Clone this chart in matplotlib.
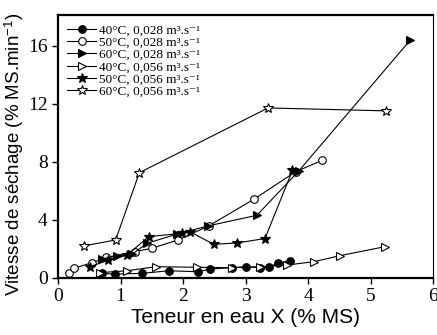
import matplotlib
matplotlib.use('Agg')
import matplotlib.pyplot as plt

plt.rcParams['mathtext.fontset'] = 'custom'
plt.rcParams['mathtext.rm'] = 'Liberation Serif'
plt.rcParams['mathtext.it'] = 'Liberation Serif'
plt.rcParams['mathtext.sf'] = 'Liberation Sans'

# 40°C, 0,028 m3/s (filled circle)
x_40_028 = [0.70, 0.91, 1.35, 1.77, 2.24, 2.43, 2.78, 3.00, 3.23, 3.38, 3.52, 3.71]
y_40_028 = [0.30, 0.25, 0.30, 0.48, 0.41, 0.60, 0.69, 0.76, 0.69, 0.76, 0.99, 1.17]

# 50°C, 0,028 m3/s (open circle)
x_50_028 = [0.18, 0.25, 0.54, 0.77, 1.23, 1.50, 1.92, 2.41, 3.13, 3.80, 4.23]
y_50_028 = [0.30, 0.65, 1.03, 1.40, 1.80, 2.03, 2.60, 3.57, 5.40, 7.30, 8.10]

# 60°C, 0,028 m3/s (filled triangle)
x_60_028 = [0.70, 0.94, 1.18, 1.42, 1.90, 2.40, 3.18, 3.85, 5.63]
y_60_028 = [1.30, 1.50, 1.60, 2.37, 3.00, 3.57, 4.30, 7.35, 16.35]

# 40°C, 0,056 m3/s (open triangle)
x_40_056 = [0.67, 1.10, 1.57, 2.22, 2.78, 3.23, 3.67, 4.09, 4.51, 5.23]
y_40_056 = [0.35, 0.48, 0.76, 0.72, 0.69, 0.76, 0.88, 1.10, 1.52, 2.14]

# 50°C, 0,056 m3/s (filled star)
x_50_056 = [0.51, 0.80, 1.10, 1.45, 1.98, 2.11, 2.49, 2.87, 3.31, 3.75]
y_50_056 = [0.76, 1.20, 1.55, 2.83, 3.06, 3.17, 2.30, 2.40, 2.70, 7.40]

# 60°C, 0,056 m3/s (open star)
x_60_056 = [0.42, 0.92, 1.30, 3.36, 5.24]
y_60_056 = [2.20, 2.60, 7.24, 11.70, 11.50]

labels = ['40°C, 0,028 m³.s⁻¹',
          '50°C, 0,028 m³.s⁻¹',
          '60°C, 0,028 m³.s⁻¹',
          '40°C, 0,056 m³.s⁻¹',
          '50°C, 0,056 m³.s⁻¹',
          '60°C, 0,056 m³.s⁻¹']

fig = plt.figure(figsize=(4.37, 3.35), dpi=100)
ax = fig.add_axes([0.133, 0.171, 0.858, 0.784])

kw = dict(color='black', lw=0.8, mec='black', mew=0.8)
ax.plot(x_40_028, y_40_028, marker='o', ms=5.5, mfc='black', label=labels[0], **kw)
ax.plot(x_50_028, y_50_028, marker='o', ms=5.5, mfc='white', label=labels[1], **kw)
ax.plot(x_60_028, y_60_028, marker='>', ms=6, mfc='black', label=labels[2], **kw)
ax.plot(x_40_056, y_40_056, marker='>', ms=6, mfc='white', label=labels[3], **kw)
ax.plot(x_50_056, y_50_056, marker='*', ms=7.5, mfc='black', label=labels[4], **kw)
ax.plot(x_60_056, y_60_056, marker='*', ms=7.5, mfc='white', label=labels[5], **kw)

ax.set_xlim(0, 6)
ax.set_ylim(0, 18.1)
ax.set_xticks([0, 1, 2, 3, 4, 5, 6])
ax.set_yticks([0, 4, 8, 12, 16])
ax.tick_params(direction='out', length=4, width=1, labelsize=14)
for lab in ax.get_xticklabels() + ax.get_yticklabels():
    lab.set_family('Liberation Serif')

for s in ['left', 'bottom', 'top']:
    ax.spines[s].set_linewidth(1.6)
ax.spines['right'].set_linewidth(0.8)

ax.set_xlabel('Teneur en eau X (% MS)', fontsize=15, family='Liberation Sans', labelpad=2)
ax.set_ylabel('Vitesse de séchage (% MS.min$^{\\mathsf{-1}}$)', fontsize=13.5,
              family='Liberation Sans')
ax.yaxis.set_label_coords(-0.085, 0.47)

ax.legend(loc='upper left', frameon=False,
          prop={'family': ['Liberation Serif', 'DejaVu Serif'], 'size': 9.5},
          labelspacing=0.0, handlelength=2.2, handletextpad=0.2,
          borderaxespad=0.2, borderpad=0.5)

fig.savefig('out.png', dpi=100)
